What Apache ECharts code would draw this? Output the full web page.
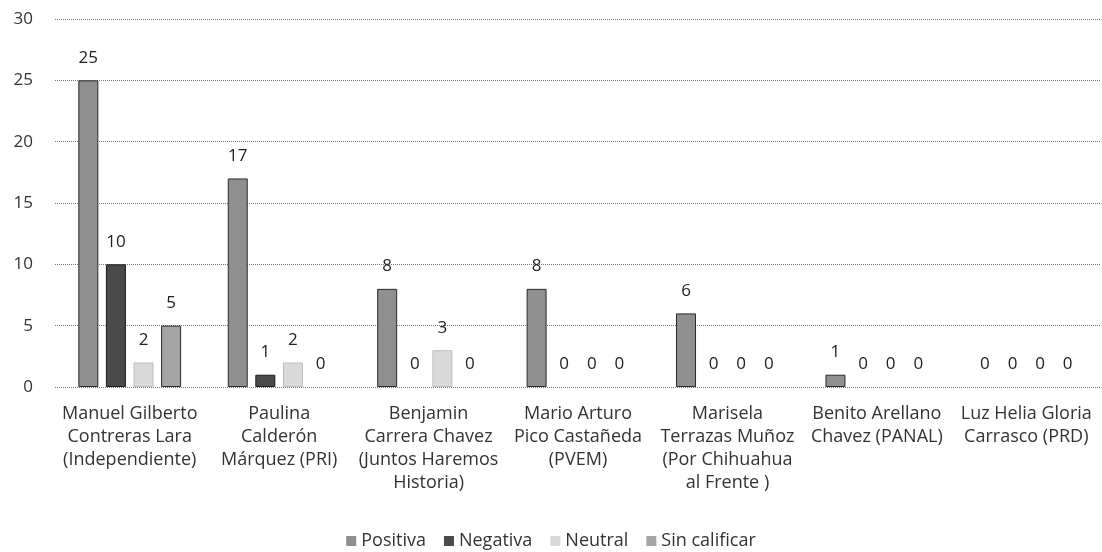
<!DOCTYPE html>
<html>
<head>
<meta charset="utf-8">
<script src="https://cdn.jsdelivr.net/npm/echarts@6/dist/echarts.min.js"></script>
<style>html,body{margin:0;padding:0;background:#fff}#c{width:1102px;height:552px}</style>
</head>
<body>
<div id="c"></div>
<script>
const categories = [
  "Manuel Gilberto\nContreras Lara\n(Independiente)",
  "Paulina\nCalderón\nMárquez (PRI)",
  "Benjamin\nCarrera Chavez\n(Juntos Haremos\nHistoria)",
  "Mario Arturo\nPico Castañeda\n(PVEM)",
  "Marisela\nTerrazas Muñoz\n(Por Chihuahua\nal Frente )",
  "Benito Arellano\nChavez (PANAL)",
  "Luz Helia Gloria\nCarrasco (PRD)"
];
const positiva = [25, 17, 8, 8, 6, 1, 0];
const negativa = [10, 1, 0, 0, 0, 0, 0];
const neutral = [2, 2, 3, 0, 0, 0, 0];
const sinCalificar = [5, 0, 0, 0, 0, 0, 0];
const seriesNames = ["Positiva", "Negativa", "Neutral", "Sin calificar"];
const yTicks = [0, 5, 10, 15, 20, 25, 30];

const FONT = "Open Sans";
const colors = ["#8f8f8f", "#4a4a4a", "#d9d9d9", "#a5a5a5"];
const borders = ["#2a2a2a", "#1a1a1a", "#bdbdbd", "#2a2a2a"];
const data = [positiva, negativa, neutral, sinCalificar];

const chart = echarts.init(document.getElementById('c'));
chart.setOption({
  animation: false,
  textStyle: { fontFamily: FONT },
  grid: { left: 55, right: 1, top: 19, bottom: 165, outerBoundsMode: 'none', containLabel: false },
  legend: {
    bottom: -3,
    left: 'center',
    itemWidth: 10, itemHeight: 10, itemGap: 18, itemStyle: { borderWidth: 0 },
    icon: 'rect',
    textStyle: { fontFamily: FONT, fontSize: 18, color: '#333' },
    data: seriesNames
  },
  xAxis: {
    type: 'category',
    data: categories,
    axisLine: { show: false },
    axisTick: { show: false },
    axisLabel: { interval: 0, fontFamily: FONT, fontSize: 18, color: '#333', lineHeight: 23, margin: 15, verticalAlign: 'top' }
  },
  yAxis: {
    type: 'value',
    min: 0, max: 30, interval: 5,
    axisLabel: { fontFamily: FONT, fontSize: 17, color: '#333', margin: 22 },
    axisLine: { show: false },
    axisTick: { show: false },
    splitLine: { lineStyle: { type: 'dotted', color: '#777', width: 1 } }
  },
  series: data.map((d, i) => ({
    name: seriesNames[i],
    type: 'bar',
    data: d.map(v => ({ value: v, itemStyle: { borderWidth: v ? 1 : 0 } })),
    barWidth: 20,
    barGap: '38%',
    itemStyle: { color: colors[i], borderColor: borders[i], borderWidth: 1 },
    label: { show: true, position: 'top', distance: 14, fontFamily: FONT, fontSize: 17, color: '#222' }
  }))
});
</script>
</body>
</html>
